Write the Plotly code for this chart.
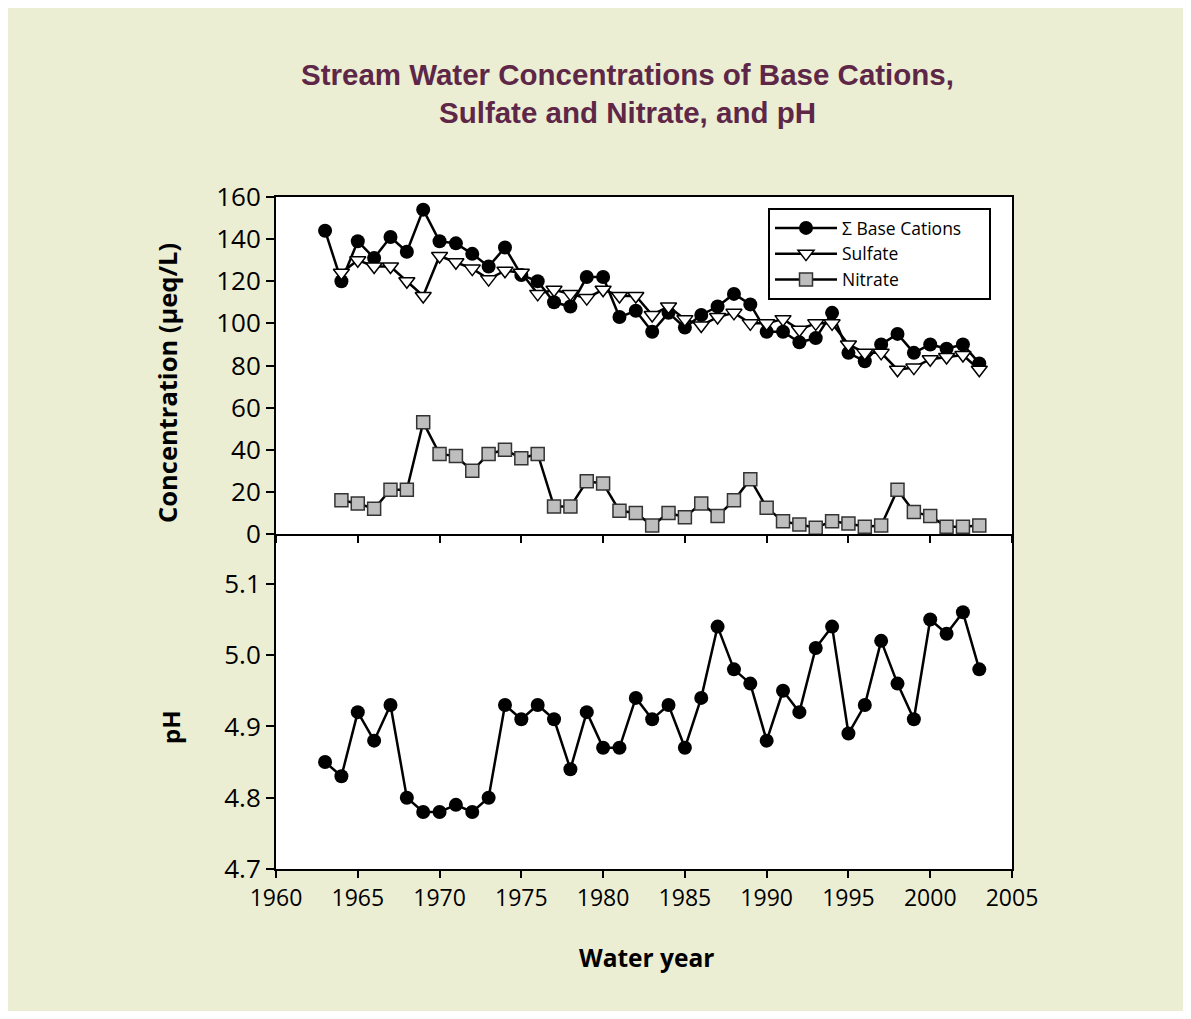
import plotly.graph_objects as go
from plotly.subplots import make_subplots

# water years
years = list(range(1963, 2004))
nitrate_years = list(range(1964, 2004))

base_cations = [144, 120, 139, 131, 141, 134, 154, 139, 138, 133, 127, 136, 123, 120, 110, 108,
                122, 122, 103, 106, 96, 105, 98, 104, 108, 114, 109, 96, 96, 91, 93, 105,
                86, 82, 90, 95, 86, 90, 88, 90, 81]
sulfate = [None, 124, 130, 127, 127, 120, 113, 132, 129, 126, 121, 125, 124, 114, 116, 114,
           112, 116, 113, 113, 104, 108, 102, 99, 103, 105, 100, 100, 102, 97, 100, 100,
           90, 86, 86, 78, 79, 83, 84, 85, 78]
nitrate = [16, 14.5, 12, 21, 21, 53, 38, 37, 30, 38, 40, 36, 38, 13, 13, 25, 24, 11, 10,
           4, 10, 8, 14.5, 8.5, 16, 26, 12.5, 6, 4.5, 3, 6, 5, 3.5, 4, 21, 10.5, 8.5, 3.5, 3.5, 4]
ph = [4.85, 4.83, 4.92, 4.88, 4.93, 4.80, 4.78, 4.78, 4.79, 4.78, 4.80, 4.93, 4.91, 4.93,
      4.91, 4.84, 4.92, 4.87, 4.87, 4.94, 4.91, 4.93, 4.87, 4.94, 5.04, 4.98, 4.96, 4.88,
      4.95, 4.92, 5.01, 5.04, 4.89, 4.93, 5.02, 4.96, 4.91, 5.05, 5.03, 5.06, 4.98]

conc_ticks = [0, 20, 40, 60, 80, 100, 120, 140, 160]
ph_ticks = [4.7, 4.8, 4.9, 5.0, 5.1]
ph_ticktext = ["4.7", "4.8", "4.9", "5.0", "5.1"]

BG = "#ECEED3"
TITLE_COLOR = "#5E2748"
FONT = "Open Sans"
PAD = "\u00a0" * 5  # right padding inside the legend box

# figure size (page adds 8px body margin around it)
FW, FH = 1175, 1003
# plot area in figure pixels, used to place paper-referenced items
L, R, T, B = 268, 1004, 189, 861
W, H = R - L, B - T


def px(x):
    return (x - L) / W


def py(y):
    return (B - y) / H


fig = make_subplots(rows=2, cols=1, shared_xaxes=True, vertical_spacing=0,
                    row_heights=[337, 335])

fig.add_trace(go.Scatter(x=years, y=base_cations, name="\u03a3 Base Cations" + PAD, mode="lines+markers",
                         line=dict(color="black", width=2.5),
                         marker=dict(symbol="circle", size=14, color="black")), row=1, col=1)
fig.add_trace(go.Scatter(x=years, y=sulfate, name="Sulfate", mode="lines+markers",
                         line=dict(color="black", width=2.5),
                         marker=dict(symbol="triangle-down", size=14, color="white",
                                     line=dict(color="black", width=1.5))), row=1, col=1)
fig.add_trace(go.Scatter(x=nitrate_years, y=nitrate, name="Nitrate", mode="lines+markers",
                         line=dict(color="black", width=2.5),
                         marker=dict(symbol="square", size=13, color="#BEBEBE",
                                     line=dict(color="#333333", width=1.5))), row=1, col=1)
fig.add_trace(go.Scatter(x=years, y=ph, mode="lines+markers", showlegend=False,
                         line=dict(color="black", width=2.5),
                         marker=dict(symbol="circle", size=14, color="black")), row=2, col=1)

axis_common = dict(showgrid=False, zeroline=False, showline=True, linecolor="black",
                   linewidth=2, ticks="outside", tickcolor="black", tickwidth=2)

fig.update_xaxes(range=[1960, 2005], tick0=1960, dtick=5, ticklen=7, **axis_common)
fig.update_xaxes(showticklabels=False, mirror=True, row=1, col=1)
fig.update_xaxes(tickfont=dict(family=FONT, size=23, color="black"), mirror=False, row=2, col=1)

fig.update_yaxes(range=[0, 160], tickvals=conc_ticks, ticklen=8, mirror=True,
                 tickfont=dict(family=FONT, size=26, color="black"), row=1, col=1, **axis_common)
fig.update_yaxes(range=[4.7, 4.7 + 335 / 713], tickvals=ph_ticks, ticktext=ph_ticktext, ticklen=8,
                 mirror=True, tickfont=dict(family=FONT, size=26, color="black"),
                 row=2, col=1, **axis_common)

annotations = [
    dict(text="<b>Stream Water Concentrations of Base Cations,<br>Sulfate and Nitrate, and pH</b>",
         x=px(619), y=py(85), font=dict(family="Liberation Sans, Arial", size=29.5, color=TITLE_COLOR)),
    dict(text="<b>Concentration (\u00b5eq/L)</b>", x=px(159), y=py(375), textangle=-90,
         font=dict(family=FONT, size=25.5, color="black")),
    dict(text="<b>pH</b>", x=px(162), y=py(719), textangle=-90,
         font=dict(family=FONT, size=24, color="black")),
    dict(text="<b>Water year</b>", x=px(638), y=py(949),
         font=dict(family=FONT, size=24.5, color="black")),
]
for a in annotations:
    a.update(xref="paper", yref="paper", showarrow=False, xanchor="center", yanchor="middle")

fig.update_layout(
    width=FW, height=FH,
    margin=dict(l=L, r=FW - R, t=T, b=FH - B),
    paper_bgcolor=BG, plot_bgcolor="white",
    annotations=annotations,
    legend=dict(x=px(760), y=py(200), xanchor="left", yanchor="top",
                bgcolor="white", bordercolor="black", borderwidth=2,
                font=dict(family=FONT, size=17.5, color="black"), itemwidth=62),
    showlegend=True,
)

fig.write_html("out.html")
